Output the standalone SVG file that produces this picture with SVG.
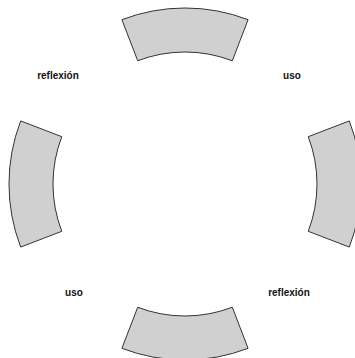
<svg xmlns="http://www.w3.org/2000/svg" width="355" height="358" viewBox="0 0 355 358">
<style>
.seg{fill:#d0d0d0;stroke:#333333;stroke-width:1;stroke-linejoin:round}
.lbl{font-family:"Liberation Sans",Arial,sans-serif;font-size:10px;font-weight:bold;fill:#111111;text-anchor:middle}
</style>
<rect width="355" height="358" fill="#ffffff"/>
<g id="seg-top"><path class="seg" d="M 121.93,19.69 A 176 176 0 0 1 248.07,19.69 L 232.30,60.77 A 132 132 0 0 0 137.70,60.77 Z"/></g>
<g id="seg-right"><path class="seg" d="M 349.31,120.93 A 176 176 0 0 1 349.31,247.07 L 308.23,231.30 A 132 132 0 0 0 308.23,136.70 Z"/></g>
<g id="seg-bottom"><path class="seg" d="M 248.07,348.31 A 176 176 0 0 1 121.93,348.31 L 137.70,307.23 A 132 132 0 0 0 232.30,307.23 Z"/></g>
<g id="seg-left"><path class="seg" d="M 20.69,247.07 A 176 176 0 0 1 20.69,120.93 L 61.77,136.70 A 132 132 0 0 0 61.77,231.30 Z"/></g>
<g id="connectors"></g>
<g id="label-tl"><text class="lbl" x="58" y="79">reflexión</text></g>
<g id="label-tr"><text class="lbl" x="292" y="79">uso</text></g>
<g id="label-bl"><text class="lbl" x="74" y="296">uso</text></g>
<g id="label-br"><text class="lbl" x="289" y="296">reflexión</text></g>
</svg>
